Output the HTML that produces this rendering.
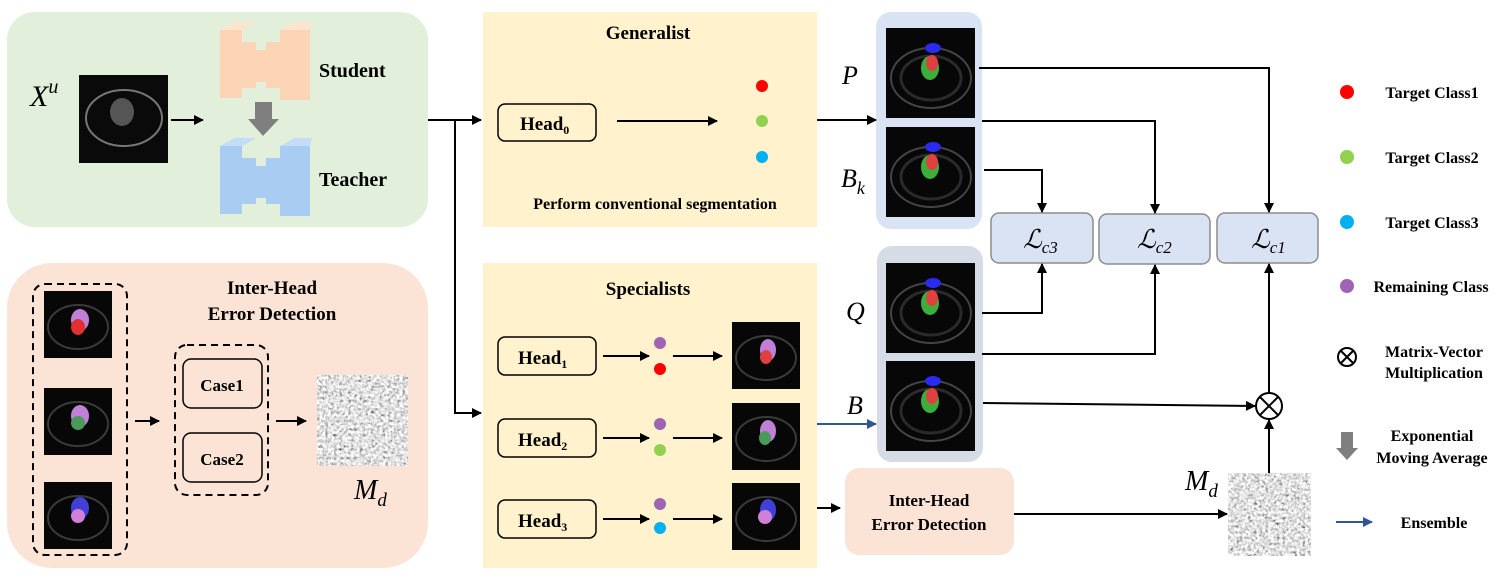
<!DOCTYPE html>
<html><head><meta charset="utf-8"><style>
html,body{margin:0;padding:0;background:#fff;}
svg{display:block;}
.t{font-family:"Liberation Serif",serif;font-weight:bold;fill:#000;}
.m{font-family:"Liberation Serif",serif;font-style:italic;fill:#000;}
</style></head><body>
<svg width="1499" height="584" viewBox="0 0 1499 584" xmlns="http://www.w3.org/2000/svg">
<defs>
<marker id="a" markerWidth="10" markerHeight="10" refX="9" refY="5" orient="auto" markerUnits="userSpaceOnUse"><path d="M0,0 L10,5 L0,10 z" fill="#000"/></marker>
<marker id="ab" markerWidth="10" markerHeight="10" refX="9" refY="5" orient="auto" markerUnits="userSpaceOnUse"><path d="M0,0 L10,5 L0,10 z" fill="#2f5597"/></marker>
<filter id="noise" x="0" y="0" width="100%" height="100%"><feTurbulence type="fractalNoise" baseFrequency="0.35" numOctaves="2" seed="3"/><feColorMatrix type="matrix" values="0.9 0.9 0.9 0 -0.6 0.9 0.9 0.9 0 -0.6 0.9 0.9 0.9 0 -0.6 0 0 0 0 1"/></filter>
<g id="mri"><rect x="0" y="0" width="89" height="90" fill="#070707"/><ellipse cx="45" cy="50" rx="40" ry="30" fill="none" stroke="#444" stroke-width="2"/><ellipse cx="45" cy="50" rx="30" ry="22" fill="none" stroke="#2a2a2a" stroke-width="3"/><ellipse cx="47" cy="20" rx="8" ry="5" fill="#2a2af0"/><ellipse cx="44" cy="40" rx="9" ry="12" fill="#3ab03a"/><ellipse cx="46" cy="35" rx="6" ry="8" fill="#e04040"/></g>
<g id="sm"><rect x="0" y="0" width="68" height="67" fill="#070707"/><ellipse cx="34" cy="36" rx="30" ry="22" fill="none" stroke="#3a3a3a" stroke-width="2"/></g>
</defs>

<!-- panels -->
<rect x="7" y="12" width="421" height="215" rx="28" fill="#e2efda"/>
<rect x="7" y="263" width="421" height="305" rx="45" fill="#fbe4d6"/>
<rect x="483" y="12" width="334" height="215" fill="#fff2cc"/>
<rect x="483" y="263" width="334" height="305" fill="#fff2cc"/>
<rect x="876" y="12" width="106" height="217" rx="15" fill="#dae3f3"/>
<rect x="877" y="246" width="106" height="216" rx="15" fill="#d6dce5"/>

<!-- top-left -->
<text class="m" x="30" y="106" font-size="30">X<tspan font-size="20" dy="-13">u</tspan></text>
<rect x="79" y="75" width="89" height="88" fill="#0a0a0a"/>
<ellipse cx="124" cy="118" rx="38" ry="28" fill="none" stroke="#777" stroke-width="2"/>
<ellipse cx="122" cy="112" rx="12" ry="14" fill="#555"/>
<line x1="171" y1="120" x2="203" y2="120" stroke="#000" stroke-width="2" marker-end="url(#a)"/>
<g fill="#fbd5b5"><rect x="220" y="30" width="22" height="68"/><rect x="242" y="42" width="14" height="46"/><rect x="256" y="50" width="10" height="32"/><rect x="266" y="42" width="14" height="46"/><rect x="280" y="30" width="30" height="70"/></g>
<g fill="#fde4cf"><polygon points="220,30 234,22 256,22 242,30"/><polygon points="280,30 294,22 312,22 310,30"/></g>
<rect x="255" y="102" width="17" height="18" fill="#7f7f7f"/><polygon points="248,119 279,119 263,136" fill="#7f7f7f"/>
<g fill="#a9cdf2"><rect x="220" y="146" width="22" height="68"/><rect x="242" y="158" width="14" height="46"/><rect x="256" y="166" width="10" height="32"/><rect x="266" y="158" width="14" height="46"/><rect x="280" y="146" width="30" height="70"/></g>
<g fill="#c4ddf7"><polygon points="220,146 234,138 256,138 242,146"/><polygon points="280,146 294,138 312,138 310,146"/></g>
<text class="t" x="319" y="77" font-size="20">Student</text>
<text class="t" x="319" y="186" font-size="20">Teacher</text>

<line x1="428" y1="120" x2="481" y2="120" stroke="#000" stroke-width="2" marker-end="url(#a)"/>
<polyline points="455,120 455,413 481,413" fill="none" stroke="#000" stroke-width="2" marker-end="url(#a)"/>

<!-- generalist -->
<text class="t" x="648" y="39" font-size="19" text-anchor="middle">Generalist</text>
<rect x="498" y="104" width="98" height="37" rx="7" fill="#fff2cc" stroke="#000" stroke-width="1.5"/>
<text class="t" x="520" y="130" font-size="19">Head<tspan font-size="12" dy="4">0</tspan></text>
<line x1="617" y1="121" x2="717" y2="121" stroke="#000" stroke-width="2" marker-end="url(#a)"/>
<circle cx="762" cy="86" r="6" fill="#ff0000"/><circle cx="762" cy="121" r="6" fill="#92d050"/><circle cx="762" cy="157" r="6" fill="#00b0f0"/>
<text class="t" x="655" y="209" font-size="16" text-anchor="middle">Perform conventional segmentation</text>
<line x1="817" y1="120" x2="876" y2="120" stroke="#000" stroke-width="2" marker-end="url(#a)"/>

<!-- specialists -->
<text class="t" x="648" y="295" font-size="19" text-anchor="middle">Specialists</text>
<g fill="#fff2cc" stroke="#000" stroke-width="1.5"><rect x="498" y="337" width="98" height="38" rx="7"/><rect x="498" y="419" width="98" height="38" rx="7"/><rect x="498" y="500" width="98" height="38" rx="7"/></g>
<text class="t" x="518" y="364" font-size="19">Head<tspan font-size="12" dy="4">1</tspan></text>
<text class="t" x="518" y="446" font-size="19">Head<tspan font-size="12" dy="4">2</tspan></text>
<text class="t" x="518" y="527" font-size="19">Head<tspan font-size="12" dy="4">3</tspan></text>
<g stroke="#000" stroke-width="2"><line x1="603" y1="356" x2="649" y2="356" marker-end="url(#a)"/><line x1="603" y1="438" x2="649" y2="438" marker-end="url(#a)"/><line x1="603" y1="519" x2="649" y2="519" marker-end="url(#a)"/>
<line x1="673" y1="356" x2="722" y2="356" marker-end="url(#a)"/><line x1="673" y1="438" x2="722" y2="438" marker-end="url(#a)"/><line x1="673" y1="519" x2="722" y2="519" marker-end="url(#a)"/></g>
<circle cx="660" cy="343" r="6" fill="#a064b4"/><circle cx="660" cy="369" r="6" fill="#ff0000"/>
<circle cx="660" cy="424" r="6" fill="#a064b4"/><circle cx="660" cy="450" r="6" fill="#92d050"/>
<circle cx="660" cy="504" r="6" fill="#a064b4"/><circle cx="660" cy="528" r="6" fill="#00b0f0"/>
<use href="#sm" x="732" y="322"/><ellipse cx="768" cy="350" rx="8" ry="11" fill="#c080d8"/><ellipse cx="766" cy="357" rx="6" ry="7" fill="#e04040"/>
<use href="#sm" x="732" y="403"/><ellipse cx="768" cy="431" rx="8" ry="11" fill="#c080d8"/><ellipse cx="765" cy="438" rx="6" ry="7" fill="#4a9a5a"/>
<use href="#sm" x="732" y="483"/><ellipse cx="768" cy="510" rx="8" ry="11" fill="#4040d8"/><ellipse cx="765" cy="517" rx="7" ry="7" fill="#d080d8"/>

<line x1="817" y1="424" x2="876" y2="424" stroke="#2f5597" stroke-width="2" marker-end="url(#ab)"/>
<line x1="817" y1="508" x2="840" y2="508" stroke="#000" stroke-width="2" marker-end="url(#a)"/>

<text class="m" x="842" y="84" font-size="26">P</text>
<text class="m" x="841" y="187" font-size="26">B<tspan font-size="18" dy="7">k</tspan></text>
<text class="m" x="846" y="320" font-size="26">Q</text>
<text class="m" x="847" y="414" font-size="26">B</text>

<use href="#mri" x="886" y="28"/><use href="#mri" x="886" y="127"/>
<use href="#mri" x="886" y="263"/><use href="#mri" x="886" y="361"/>

<!-- loss boxes -->
<g fill="#dae3f3" stroke="#8c8c8c" stroke-width="1.5"><rect x="991" y="213" width="102" height="50" rx="8"/><rect x="1099" y="214" width="111" height="50" rx="8"/><rect x="1217" y="213" width="101" height="50" rx="8"/></g>
<text class="m" x="1023" y="248" font-size="26">ℒ<tspan font-size="17" dy="5">c3</tspan></text>
<text class="m" x="1137" y="248" font-size="26">ℒ<tspan font-size="17" dy="5">c2</tspan></text>
<text class="m" x="1251" y="248" font-size="26">ℒ<tspan font-size="17" dy="5">c1</tspan></text>

<g stroke="#000" stroke-width="2" fill="none">
<polyline points="979,68 1269,68 1269,212" marker-end="url(#a)"/>
<polyline points="982,121 1155,121 1155,213" marker-end="url(#a)"/>
<polyline points="984,170 1042,170 1042,212" marker-end="url(#a)"/>
<polyline points="982,313 1042,313 1042,264" marker-end="url(#a)"/>
<polyline points="982,354 1155,354 1155,265" marker-end="url(#a)"/>
<polyline points="983,403 1255,406" marker-end="url(#a)"/>
<line x1="1269" y1="393" x2="1269" y2="264" marker-end="url(#a)"/>
<line x1="1269" y1="473" x2="1269" y2="420" marker-end="url(#a)"/>
</g>
<circle cx="1269" cy="406" r="13" fill="#fff" stroke="#000" stroke-width="2"/>
<line x1="1260" y1="397" x2="1278" y2="415" stroke="#000" stroke-width="2"/><line x1="1278" y1="397" x2="1260" y2="415" stroke="#000" stroke-width="2"/>

<rect x="845" y="468" width="169" height="87" rx="14" fill="#fbe4d6"/>
<text class="t" x="929" y="506" font-size="17" text-anchor="middle">Inter-Head</text>
<text class="t" x="929" y="530" font-size="17" text-anchor="middle">Error Detection</text>
<line x1="1014" y1="514" x2="1227" y2="514" stroke="#000" stroke-width="2" marker-end="url(#a)"/>
<rect x="1228" y="473" width="83" height="83" filter="url(#noise)"/>
<text class="m" x="1185" y="490" font-size="28">M<tspan font-size="19" dy="7">d</tspan></text>

<!-- legend -->
<circle cx="1347" cy="92" r="7" fill="#ff0000"/><circle cx="1347" cy="157" r="7" fill="#92d050"/><circle cx="1347" cy="222" r="7" fill="#00b0f0"/><circle cx="1347" cy="286" r="7" fill="#a064b4"/>
<g class="t" font-size="16" text-anchor="middle">
<text x="1432" y="98">Target Class1</text><text x="1432" y="163">Target Class2</text><text x="1432" y="228">Target Class3</text><text x="1431" y="292">Remaining Class</text>
<text x="1434" y="357">Matrix-Vector</text><text x="1434" y="378">Multiplication</text>
<text x="1432" y="441">Exponential</text><text x="1432" y="463">Moving Average</text>
<text x="1434" y="528">Ensemble</text></g>
<circle cx="1347" cy="357" r="9" fill="none" stroke="#000" stroke-width="2"/><line x1="1341" y1="351" x2="1353" y2="363" stroke="#000" stroke-width="2"/><line x1="1353" y1="351" x2="1341" y2="363" stroke="#000" stroke-width="2"/>
<rect x="1341" y="432" width="12" height="17" fill="#7f7f7f"/><polygon points="1336,448 1358,448 1347,460" fill="#7f7f7f"/>
<line x1="1336" y1="522" x2="1372" y2="522" stroke="#2f5597" stroke-width="2" marker-end="url(#ab)"/>

<!-- bottom-left detail -->
<text class="t" x="272" y="294" font-size="19" text-anchor="middle">Inter-Head</text>
<text class="t" x="272" y="320" font-size="19" text-anchor="middle">Error Detection</text>
<rect x="33" y="284" width="94" height="271" rx="12" fill="none" stroke="#000" stroke-width="2" stroke-dasharray="7,5"/>
<use href="#sm" x="44" y="291"/><ellipse cx="80" cy="320" rx="9" ry="11" fill="#c080d8"/><ellipse cx="78" cy="327" rx="7" ry="8" fill="#e03030"/>
<use href="#sm" x="44" y="388"/><ellipse cx="80" cy="416" rx="9" ry="11" fill="#c080d8"/><ellipse cx="78" cy="423" rx="7" ry="7" fill="#4a9a5a"/>
<use href="#sm" x="44" y="482"/><ellipse cx="80" cy="508" rx="9" ry="11" fill="#4040d8"/><ellipse cx="78" cy="516" rx="7" ry="7" fill="#d080d8"/>
<line x1="135" y1="421" x2="159" y2="421" stroke="#000" stroke-width="2" marker-end="url(#a)"/>
<rect x="175" y="345" width="93" height="150" rx="12" fill="none" stroke="#000" stroke-width="2" stroke-dasharray="7,5"/>
<rect x="183" y="359" width="79" height="49" rx="8" fill="none" stroke="#000" stroke-width="1.5"/>
<rect x="183" y="433" width="79" height="49" rx="8" fill="none" stroke="#000" stroke-width="1.5"/>
<text class="t" x="222" y="391" font-size="17" text-anchor="middle">Case1</text>
<text class="t" x="222" y="465" font-size="17" text-anchor="middle">Case2</text>
<line x1="276" y1="421" x2="306" y2="421" stroke="#000" stroke-width="2" marker-end="url(#a)"/>
<rect x="317" y="375" width="91" height="91" filter="url(#noise)"/>
<text class="m" x="354" y="499" font-size="28">M<tspan font-size="19" dy="7">d</tspan></text>
</svg>
</body></html>
